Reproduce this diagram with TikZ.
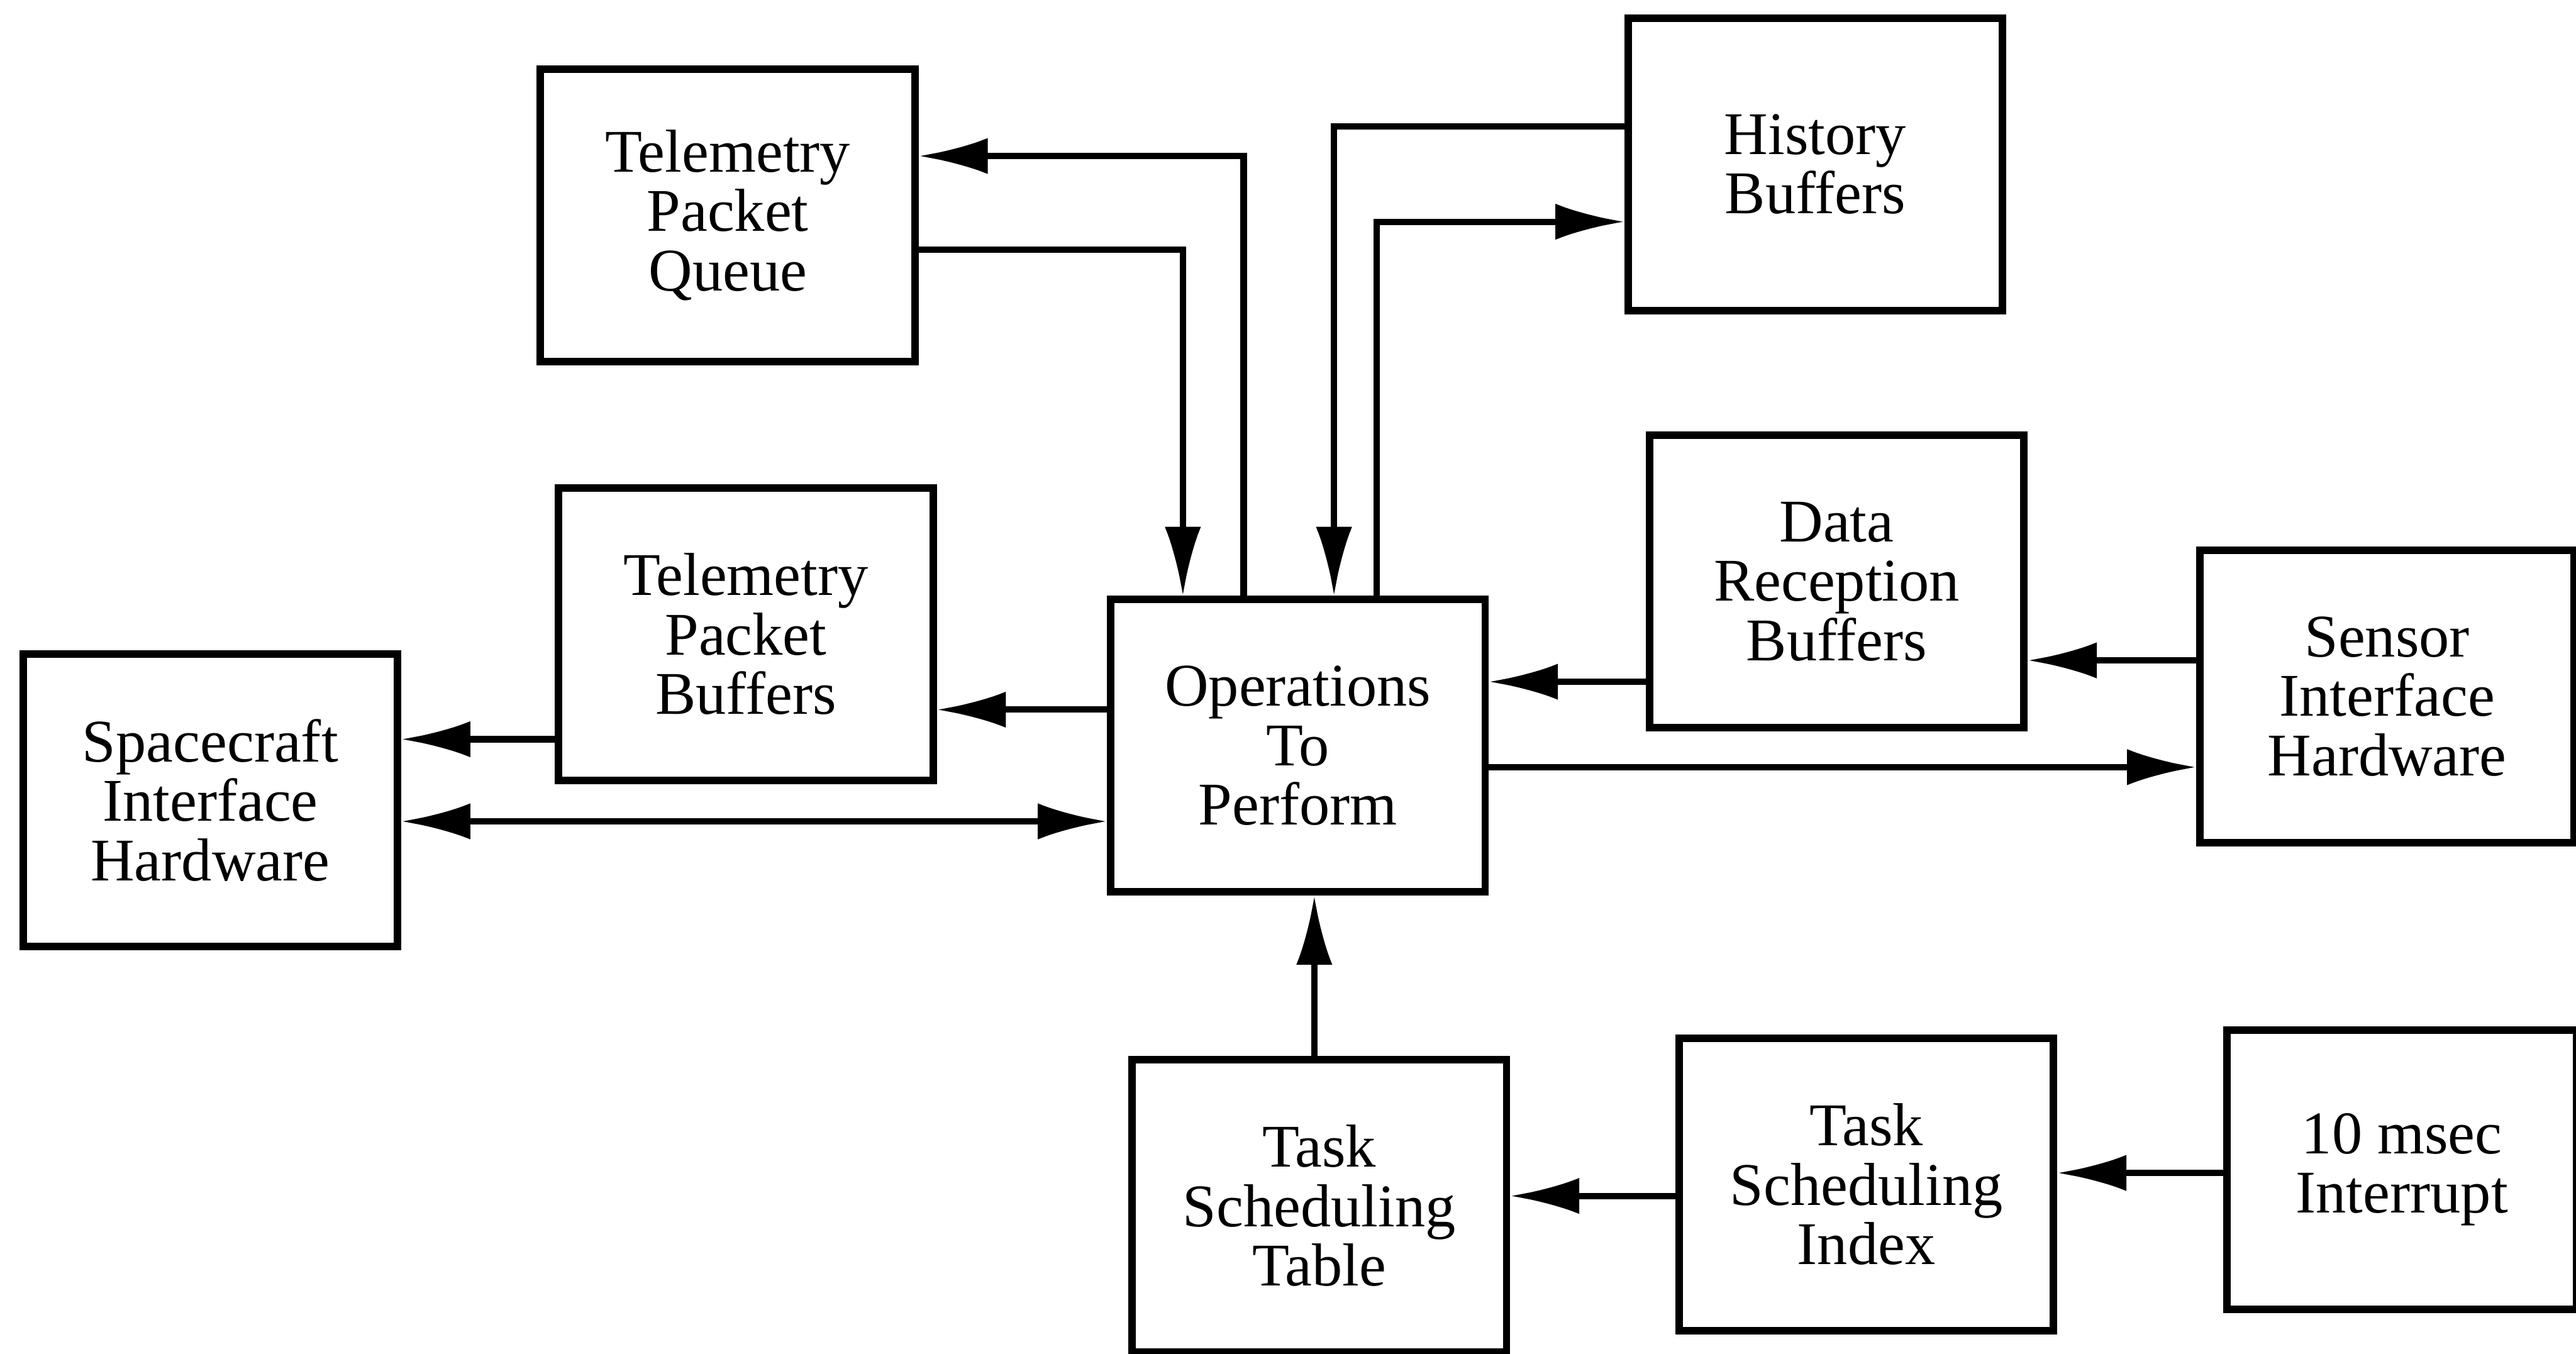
\documentclass[tikz,border=0pt]{standalone}
\usepackage{fontspec}
\setmainfont{Liberation Serif}
\usetikzlibrary{arrows.meta}

\tikzset{
  blk/.style={draw, line width=1.3pt, minimum width=2.28cm, minimum height=1.78cm,
    align=center, inner sep=2pt, font=\fontsize{10.5}{10.3}\selectfont},
  arr/.style={-{Latex[length=4.2mm,width=2.2mm]}, line width=1.1pt},
  twoarr/.style={{Latex[length=4.2mm,width=2.2mm]}-{Latex[length=4.2mm,width=2.2mm]}, line width=1.1pt}
}

\begin{document}
\begin{tikzpicture}
    \useasboundingbox (0,0) rectangle (15.68,8.24);

    % Boxes
    \node[blk] (tpq) at (4.43,6.93) {Telemetry\\Packet\\Queue};
    \node[blk] (hist) at (11.05,7.24) {History\\Buffers};
    \node[blk] (tpb) at (4.54,4.38) {Telemetry\\Packet\\Buffers};
    \node[blk] (drb) at (11.18,4.70) {Data\\Reception\\Buffers};
    \node[blk] (sch) at (1.28,3.37) {Spacecraft\\Interface\\Hardware};
    \node[blk] (ops) at (7.90,3.70) {Operations\\To\\Perform};
    \node[blk] (sih) at (14.53,4.00) {Sensor\\Interface\\Hardware};
    \node[blk] (tst) at (8.03,0.90) {Task\\Scheduling\\Table};
    \node[blk] (tsi) at (11.36,1.03) {Task\\Scheduling\\Index};
    \node[blk, minimum width=2.13cm, minimum height=1.70cm] (intr) at (14.62,1.12) {10 msec\\Interrupt};

    % Heights of the horizontal connectors
    \coordinate (yA) at (0,3.92);
    \coordinate (yB) at (0,3.74);
    \coordinate (yC) at (0,3.24);
    \coordinate (yD) at (0,4.09);
    \coordinate (yE) at (0,4.22);
    \coordinate (yF) at (0,3.57);
    \coordinate (yG) at (0,0.96);
    \coordinate (yH) at (0,1.10);
    \coordinate (xT) at (8.00,0);

    % Connectors above the operations box
    \draw[arr] ([xshift=-3.3mm]ops.north) |- ([yshift=3.6mm]tpq.east);
    \draw[arr] ([yshift=-2.1mm]tpq.east) -| ([xshift=-7mm]ops.north);
    \draw[arr] ([yshift=2.3mm]hist.west) -| ([xshift=2.2mm]ops.north);
    \draw[arr] ([xshift=4.8mm]ops.north) |- ([yshift=-3.5mm]hist.west);

    % Left side
    \draw[arr] (ops.west |- yA) -- (tpb.east |- yA);
    \draw[arr] (tpb.west |- yB) -- (sch.east |- yB);
    \draw[twoarr] (sch.east |- yC) -- (ops.west |- yC);

    % Right side
    \draw[arr] (drb.west |- yD) -- (ops.east |- yD);
    \draw[arr] (sih.west |- yE) -- (drb.east |- yE);
    \draw[arr] (ops.east |- yF) -- (sih.west |- yF);

    % Bottom row
    \draw[arr] (tst.north -| xT) -- (ops.south -| xT);
    \draw[arr] (tsi.west |- yG) -- (tst.east |- yG);
    \draw[arr] (intr.west |- yH) -- (tsi.east |- yH);
\end{tikzpicture}
\end{document}
